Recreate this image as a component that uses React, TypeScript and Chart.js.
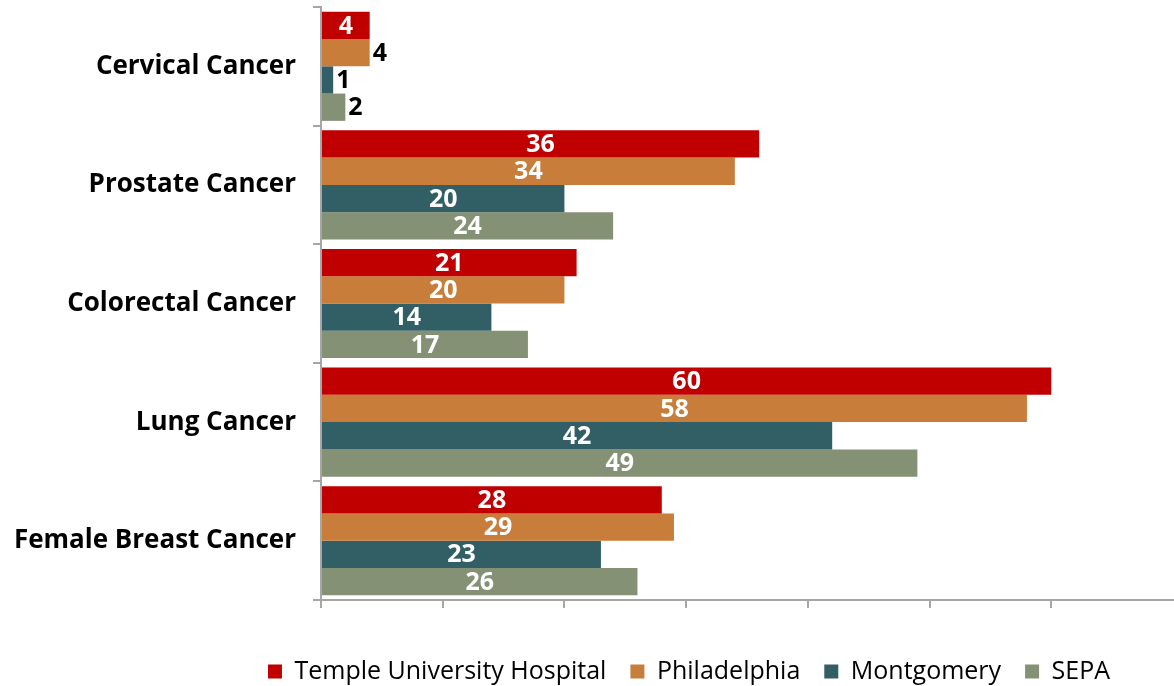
import React, { useEffect, useRef } from "react";
import { Chart, registerables } from "chart.js";

Chart.register(...registerables);

const categories = [
  "Cervical Cancer",
  "Prostate Cancer",
  "Colorectal Cancer",
  "Lung Cancer",
  "Female Breast Cancer",
];
const seriesNames = ["Temple University Hospital", "Philadelphia", "Montgomery", "SEPA"];
const templeValues = [4, 36, 21, 60, 28];
const philadelphiaValues = [4, 34, 20, 58, 29];
const montgomeryValues = [1, 20, 14, 42, 23];
const sepaValues = [2, 24, 17, 49, 26];
const xTicks = [0, 10, 20, 30, 40, 50, 60];
const xMax = 70;

const seriesColors = ["#C00000", "#C87D3A", "#325F65", "#849174"];
// labels drawn in black outside the bar end: [seriesIndex, categoryIndex]
const outsideLabels: [number, number][] = [
  [1, 0],
  [2, 0],
  [3, 0],
];

const FONT = "'Open Sans', 'Noto Sans', sans-serif";
const LEGEND_CENTER_X = 689;

const valueLabelPlugin = {
  id: "valueLabels",
  afterLayout(chart: any) {
    const lg = chart.legend;
    if (!lg) return;
    const dx = LEGEND_CENTER_X - (lg.left + lg.right) / 2;
    lg.left += dx;
    lg.right += dx;
  },
  afterDatasetsDraw(chart: any) {
    const ctx = chart.ctx;
    ctx.save();
    ctx.font = `700 25px ${FONT}`;
    ctx.textBaseline = "middle";
    chart.data.datasets.forEach((ds: any, di: number) => {
      const meta = chart.getDatasetMeta(di);
      meta.data.forEach((bar: any, i: number) => {
        const v = ds.data[i];
        const outside = outsideLabels.some(([s, c]) => s === di && c === i);
        if (outside) {
          ctx.fillStyle = "#000000";
          ctx.textAlign = "left";
          ctx.fillText(String(v), bar.x + 3, bar.y + 1);
        } else {
          ctx.fillStyle = "#FFFFFF";
          ctx.textAlign = "center";
          ctx.fillText(String(v), (bar.x + bar.base) / 2, bar.y + 1);
        }
      });
    });
    ctx.restore();
  },
};

export default function App() {
  const canvasRef = useRef<HTMLCanvasElement | null>(null);

  useEffect(() => {
    if (!canvasRef.current) return;
    const values = [templeValues, philadelphiaValues, montgomeryValues, sepaValues];
    const chart = new Chart(canvasRef.current, {
      type: "bar",
      data: {
        labels: categories,
        datasets: seriesNames.map((name, i) => ({
          label: name,
          data: values[i],
          backgroundColor: seriesColors[i],
          borderWidth: 0,
          categoryPercentage: 0.92,
          barPercentage: 1.0,
        })),
      },
      options: {
        indexAxis: "y",
        responsive: false,
        animation: false,
        devicePixelRatio: 1,
        layout: { padding: { top: 7, right: 1, left: 0, bottom: 0 } },
        plugins: {
          tooltip: { enabled: false },
          legend: {
            position: "bottom",
            labels: {
              boxWidth: 14,
              boxHeight: 14,
              padding: 24,
              color: "#000000",
              font: { family: FONT, size: 25, weight: "400" },
            },
          },
        },
        scales: {
          x: {
            type: "linear",
            min: xTicks[0],
            max: xMax,
            afterBuildTicks: (scale: any) => {
              scale.ticks = xTicks.map((v) => ({ value: v }));
            },
            ticks: { display: false },
            grid: {
              drawOnChartArea: false,
              drawTicks: true,
              tickLength: 8,
              color: "#A6A6A6",
              lineWidth: 2,
            },
            border: { color: "#A6A6A6", width: 2 },
            afterFit: (scale: any) => {
              scale.height = 35;
              scale.paddingLeft = 0;
              scale.paddingRight = 0;
            },
          },
          y: {
            type: "category",
            offset: true,
            grid: {
              offset: true,
              drawOnChartArea: false,
              drawTicks: true,
              tickLength: 8,
              color: "#A6A6A6",
              lineWidth: 2,
            },
            border: { color: "#A6A6A6", width: 2 },
            ticks: {
              padding: 17,
              color: "#000000",
              font: { family: FONT, size: 26, weight: "700" },
            },
            afterFit: (scale: any) => {
              scale.width = 321;
              scale.paddingTop = 0;
              scale.paddingBottom = 0;
            },
          },
        },
      },
      plugins: [valueLabelPlugin],
    } as any);
    return () => chart.destroy();
  }, []);

  return (
    <div style={{ position: "fixed", left: 0, top: 0, width: 1174, height: 694, background: "#fff" }}>
      <canvas ref={canvasRef} width={1174} height={694} style={{ display: "block" }} />
    </div>
  );
}
